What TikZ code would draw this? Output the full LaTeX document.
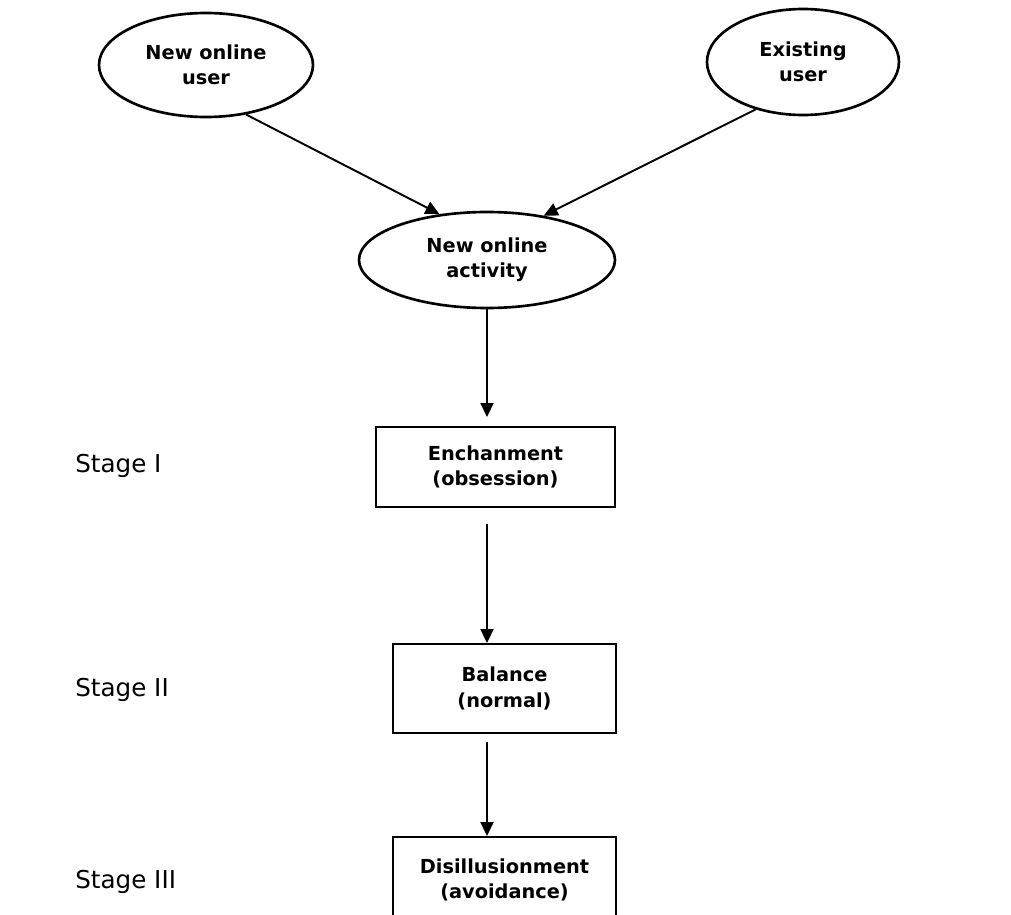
\documentclass[tikz,border=0pt]{standalone}
\usepackage{fontspec}
\setmainfont{DejaVu Sans}
\usetikzlibrary{shapes.geometric}
\usetikzlibrary{arrows.meta}

\tikzset{
    user/.style={ellipse, draw, line width=1.5pt, inner sep=0pt, align=center,
        font=\bfseries\fontsize{11}{14.5}\selectfont},
    stagebox/.style={rectangle, draw, line width=1.1pt, inner sep=0pt, align=center,
        font=\bfseries\fontsize{11}{14.5}\selectfont},
    flow/.style={-{Triangle[length=0.28cm,width=0.26cm]}, line width=1.1pt},
    stagelabel/.style={anchor=west, inner sep=0pt, font=\fontsize{14}{16}\selectfont}
}

\begin{document}
\begin{tikzpicture}
            \useasboundingbox (0,0) rectangle (20.22,-18.3);

            % users and activity
            \node[user, minimum width=4.28cm, minimum height=2.08cm] (newuser) at (4.12,-1.30) {New online\\user};
            \node[user, minimum width=3.84cm, minimum height=2.12cm] (olduser) at (16.06,-1.24) {Existing\\user};
            \node[user, minimum width=5.12cm, minimum height=1.92cm] (activity) at (9.74,-5.20) {New online\\activity};

            % stage boxes
            \node[stagebox, minimum width=4.78cm, minimum height=1.60cm] (enchant) at (9.91,-9.34) {Enchanment\\(obsession)};
            \node[stagebox, minimum width=4.46cm, minimum height=1.78cm] (balance) at (10.09,-13.77) {Balance\\(normal)};
            \node[stagebox, minimum width=4.46cm, minimum height=1.72cm] (disill) at (10.09,-17.60) {Disillusionment\\(avoidance)};

            % stage labels
            \node[stagelabel] (stageone) at (1.5,-9.32) {Stage I};
            \node[stagelabel] (stagetwo) at (1.5,-13.80) {Stage II};
            \node[stagelabel] (stagethree) at (1.5,-17.64) {Stage III};

            % arrows
            \draw[flow] (newuser.-51) -- (activity.136);
            \draw[flow] (olduser.-135) -- (activity.38);
            \draw[flow, shorten >=0.18cm] (activity.south) -- (activity.south |- enchant.north);
            \draw[flow, shorten <=0.32cm] (activity.south |- enchant.south) -- (activity.south |- balance.north);
            \draw[flow, shorten <=0.16cm] (activity.south |- balance.south) -- (activity.south |- disill.north);

        \end{tikzpicture}
\end{document}
